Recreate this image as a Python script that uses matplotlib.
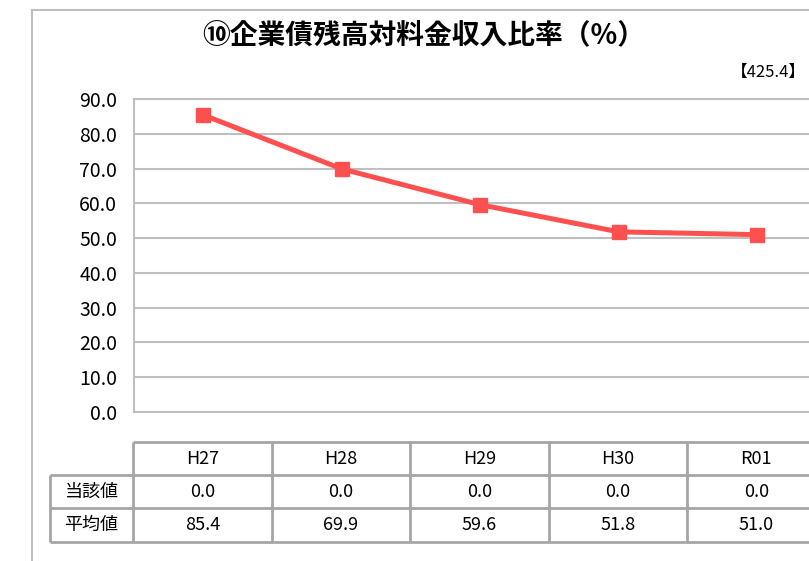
import matplotlib.pyplot as plt
from matplotlib.lines import Line2D

plt.rcParams['font.family'] = ['Noto Sans CJK JP', 'DejaVu Sans']

title = '⑩企業債残高対料金収入比率（%）'
note = '【425.4】'
years = ['H27', 'H28', 'H29', 'H30', 'R01']
row_names = ['当該値', '平均値']
current = [0.0, 0.0, 0.0, 0.0, 0.0]
average = [85.4, 69.9, 59.6, 51.8, 51.0]
yticks = [0, 10, 20, 30, 40, 50, 60, 70, 80, 90]

W, H = 809, 561
fig = plt.figure(figsize=(W / 100, H / 100), dpi=100)

def fx(px):
    return px / W

def fy(py):
    return 1 - py / H

grey = '#BFBFBF'
tgrey = '#A6A6A6'
red = '#FF5050'

# outer chart frame (left and top edges only, the rest runs off the image)
fig.add_artist(Line2D([fx(32), fx(32)], [fy(10), 0], color=grey, lw=1.5))
fig.add_artist(Line2D([fx(32), 1], [fy(10), fy(10)], color=grey, lw=1.5))

fig.text(fx(424), fy(35), title, ha='center', va='center',
         fontsize=20, fontweight='bold')
fig.text(fx(806), fy(72), note, ha='right', va='center', fontsize=12)

# plot area
colw = 138.5
left, top, bottom = 134, 99, 412
ax = fig.add_axes([fx(left), fy(bottom), fx(5 * colw), (bottom - top) / H])
x = list(range(len(years)))
ax.plot(x, average, color=red, lw=3.6, marker='s', markersize=10,
        markeredgecolor=red, markerfacecolor=red, zorder=3)
ax.set_xlim(-0.5, len(years) - 0.5)
ax.set_ylim(0, 90)
ax.set_yticks(yticks)
ax.set_yticklabels([f'{v:.1f}' for v in yticks], fontsize=14)
ax.set_xticks([])
ax.tick_params(axis='y', length=0, pad=12)
ax.grid(axis='y', color=grey, lw=1.5)
ax.set_axisbelow(True)
for s in ['left', 'bottom', 'top']:
    ax.spines[s].set_color(grey)
    ax.spines[s].set_linewidth(1.5)
ax.spines['right'].set_visible(False)

# data table under the plot
tb = fig.add_axes([fx(133), fy(545), fx(5 * colw), 106 / H])
tb.set_xlim(-0.5, len(years) - 0.5)
tb.set_ylim(545, 439)
tb.axis('off')
rows_y = [442, 475, 508, 542]
lab_left = -0.5 - (133 - 50) / colw
lw_t = 2.0
tb.hlines(rows_y[0], -0.5, len(years), color=tgrey, lw=lw_t, clip_on=False)
for yy in rows_y[1:]:
    tb.hlines(yy, lab_left, len(years), color=tgrey, lw=lw_t, clip_on=False)
for i in range(len(years) + 1):
    tb.vlines(i - 0.5, rows_y[0], rows_y[-1], color=tgrey, lw=lw_t, clip_on=False)
tb.vlines(lab_left, rows_y[1], rows_y[-1], color=tgrey, lw=lw_t, clip_on=False)

def mid(r):
    return (rows_y[r] + rows_y[r + 1]) / 2

for i, yr in enumerate(years):
    tb.text(i, mid(0), yr, ha='center', va='center', fontsize=13)
    tb.text(i, mid(1), f'{current[i]:.1f}', ha='center', va='center', fontsize=13)
    tb.text(i, mid(2), f'{average[i]:.1f}', ha='center', va='center', fontsize=13)
for r, name in enumerate(row_names):
    tb.text((lab_left - 0.5) / 2, mid(r + 1), name, ha='center', va='center',
            fontsize=13, clip_on=False)

fig.savefig('out.png', dpi=100)
